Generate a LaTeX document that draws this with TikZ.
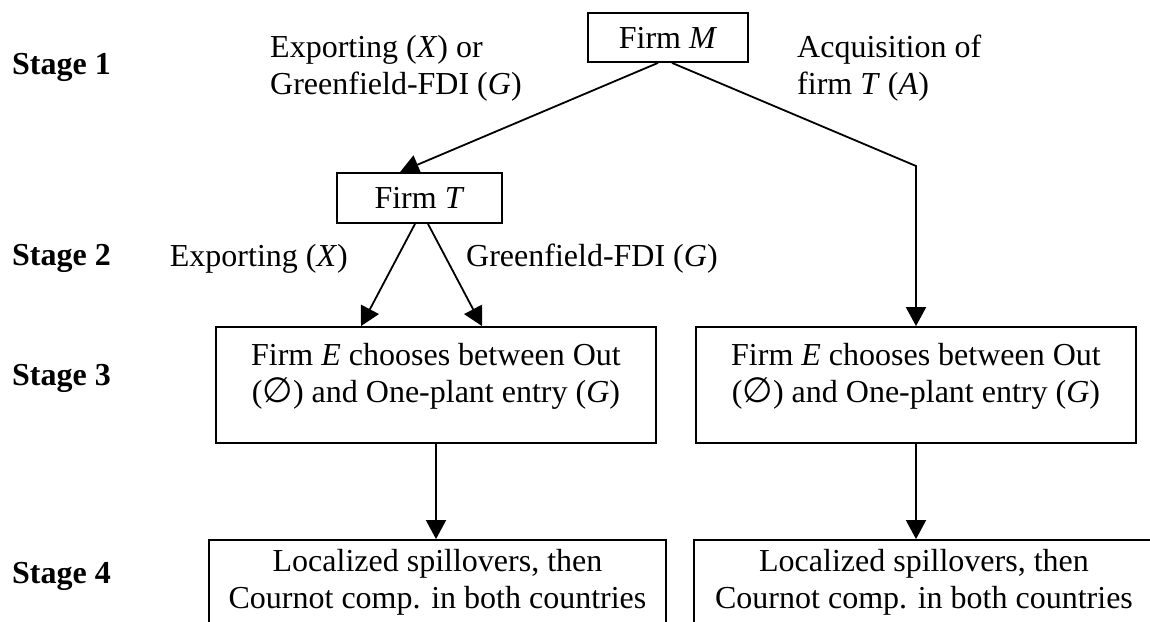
\documentclass[tikz,border=0pt]{standalone}
\usepackage{fontspec}
\setmainfont{Liberation Serif}
\newfontfamily\symfont{DejaVu Sans}
\usetikzlibrary{arrows.meta}
\newcommand\bigfs{\fontsize{32}{37}\selectfont}
\newcommand\emptysym{{\symfont\fontsize{35}{37}\selectfont ∅}}
\tikzset{
  box/.style={draw, line width=1.8pt, inner sep=0pt},
  txt/.style={font=\bigfs, inner sep=0pt, align=center},
  ltxt/.style={font=\bigfs, inner sep=0pt, align=left},
  stagelbl/.style={font=\bigfs\bfseries, inner sep=0pt, anchor=base west},
  arr/.style={-{Triangle[length=19pt,width=20pt]}, line width=1.8pt},
}
\begin{document}
\begin{tikzpicture}[x=1pt,y=-1pt]
\useasboundingbox (0,0) rectangle (1150,621);
% stage labels
\node[stagelbl] (st1) at (12,74) {Stage 1};
\node[stagelbl] (st2) at (12,265) {Stage 2};
\node[stagelbl] (st3) at (12,385) {Stage 3};
\node[stagelbl] (st4) at (12,583) {Stage 4};
% stage 1
\node[box, txt, minimum width=160pt, minimum height=49pt] (M) at (668,37.5) {Firm \textit{M}};
\node[ltxt, anchor=north west] (lab1) at (270,35) {Exporting (\textit{X}) or\\Greenfield-FDI (\textit{G})};
\node[ltxt, anchor=north west] (lab2) at (797,35) {Acquisition of\\firm \textit{T} (\textit{A})};
% stage 2
\node[box, txt, minimum width=165pt, minimum height=50pt] (T) at (419.5,198) {Firm \textit{T}};
\node[txt, anchor=base east] (lab3) at (348,266) {Exporting (\textit{X})};
\node[txt, anchor=base west] (lab4) at (466,266) {Greenfield-FDI (\textit{G})};
% stage 3
\node[box, minimum width=440pt, minimum height=116pt] (E1) at (436,385) {};
\node[txt, anchor=north] (E1t) at ([yshift=-17pt]E1.north) {Firm \textit{E} chooses between Out\\(\emptysym) and One-plant entry (\textit{G})};
\node[box, minimum width=440pt, minimum height=116pt] (E2) at (916,385) {};
\node[txt, anchor=north] (E2t) at ([yshift=-17pt]E2.north) {Firm \textit{E} chooses between Out\\(\emptysym) and One-plant entry (\textit{G})};
% stage 4
\node[box, txt, minimum width=457pt, minimum height=85pt] (S1) at (437.5,582.5) {Localized spillovers, then\\Cournot comp. in both countries};
\node[box, txt, minimum width=460pt, minimum height=85pt] (S2) at (924,582.5) {Localized spillovers, then\\Cournot comp. in both countries};
% connectors
\coordinate (bend) at (916,166);
\draw[arr] ([xshift=-10pt]M.south) -- ([xshift=-19.5pt]T.north);
\draw[arr] ([xshift=4pt]M.south) -- (bend) -- (bend |- E2.north);
\draw[arr] ([xshift=-4.5pt]T.south) -- ([xshift=-75pt]E1.north);
\draw[arr] ([xshift=8.5pt]T.south) -- ([xshift=46pt]E1.north);
\draw[arr] (E1.south) -- (E1.south |- S1.north);
\draw[arr] (E2.south) -- (E2.south |- S2.north);
\end{tikzpicture}
\end{document}
